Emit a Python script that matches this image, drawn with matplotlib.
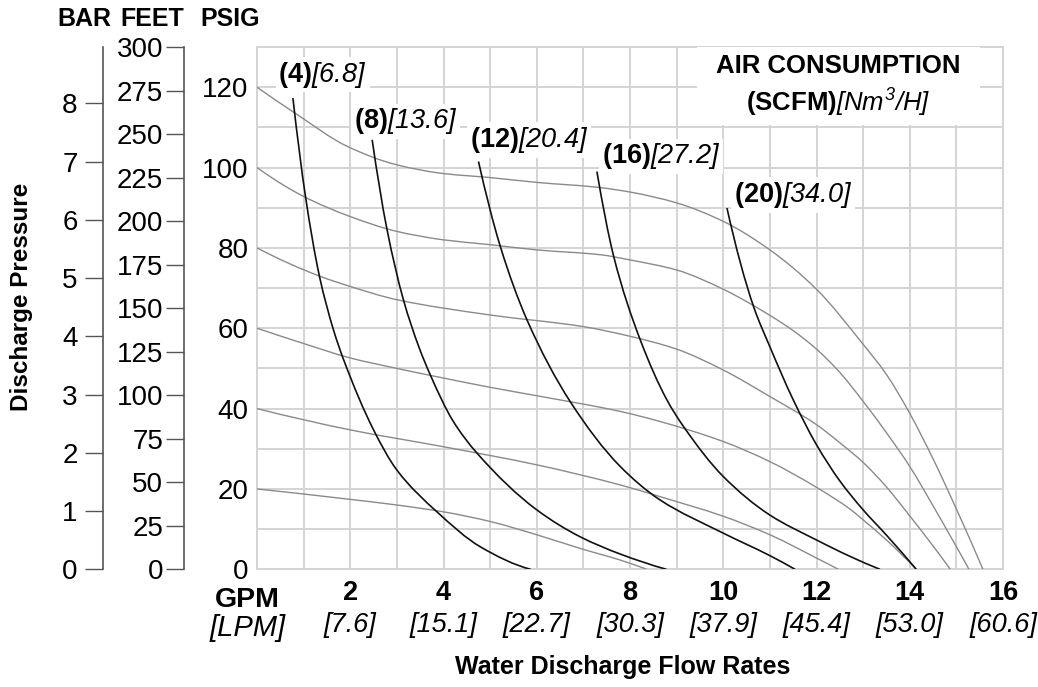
import numpy as np
import matplotlib.pyplot as plt
from matplotlib.patches import Rectangle, PathPatch
from matplotlib.path import Path

plt.rcParams['font.family'] = ['Liberation Sans', 'DejaVu Sans']
plt.rcParams['mathtext.fontset'] = 'custom'
plt.rcParams['mathtext.rm'] = 'Liberation Sans:italic'
plt.rcParams['mathtext.it'] = 'Liberation Sans:italic'
plt.rcParams['mathtext.bf'] = 'Liberation Sans:bold'

# inlet air pressure curves (psig): GPM vs discharge psig
G120_X = [0, 0.86, 1.93, 2.99, 4.0, 5.0, 6.0, 7.29, 8.0, 9.0, 10.0, 11.0, 12.0, 13.0, 13.5, 14.0, 14.5, 15.0, 15.57]
G120_Y = [120, 113.2, 105.3, 100.7, 98.5, 97.5, 96.3, 95.1, 93.9, 91.2, 86.6, 79.5, 69.7, 56.0, 48.5, 38.8, 27.5, 15.0, 0]
G100_X = [0, 1.0, 2.0, 3.0, 4.0, 5.0, 6.0, 7.36, 8.0, 9.0, 10.0, 11.0, 11.5, 12.0, 12.5, 13.0, 13.5, 14.0, 14.5, 15.27]
G100_Y = [100, 92.8, 87.8, 84.1, 82.0, 80.8, 79.5, 78.3, 77.0, 74.5, 69.7, 63.2, 59.4, 54.8, 49.0, 41.8, 34.0, 25.6, 15.8, 0]
G80_X = [0, 1.36, 2.0, 3.0, 5.0, 7.0, 8.0, 9.0, 10.0, 11.0, 12.0, 12.5, 13.0, 13.5, 14.0, 14.5, 14.87]
G80_Y = [80, 72.9, 70.4, 67.1, 63.3, 60.4, 58.0, 54.8, 49.6, 43.0, 36.0, 31.5, 26.6, 20.5, 13.3, 5.8, 0]
G60_X = [0, 1.0, 2.0, 3.0, 4.0, 5.0, 6.0, 7.79, 8.64, 10.0, 11.0, 12.0, 12.74, 13.0, 13.5, 14.14]
G60_Y = [60, 56.2, 52.6, 50.0, 47.6, 45.3, 43.2, 39.3, 36.8, 31.8, 26.8, 20.4, 14.8, 12.3, 7.3, 0]
G40_X = [0, 2.0, 4.0, 6.0, 7.79, 8.64, 10.0, 11.0, 12.0, 12.47]
G40_Y = [40, 34.7, 30.5, 26.0, 21.0, 18.1, 13.2, 8.6, 2.8, 0]
G20_X = [0, 2.0, 3.0, 4.0, 5.0, 6.0, 6.93, 7.79, 8.36]
G20_Y = [20, 17.4, 16.0, 14.3, 11.9, 8.6, 5.2, 2.3, 0]

# air consumption curves (SCFM)
B4_X = [0.77, 1.04, 1.34, 1.64, 1.86, 2.5, 3.0, 3.86, 4.79, 5.87]
B4_Y = [117.3, 92.8, 72.9, 59.6, 52.1, 34.7, 24.7, 14.3, 5.6, 0]
B8_X = [2.47, 2.79, 3.14, 3.47, 3.72, 4.2, 4.72, 6.0, 6.93, 7.79, 8.78]
B8_Y = [106.9, 84.5, 67.1, 55.4, 48.3, 37.0, 28.9, 14.8, 8.1, 3.8, 0]
B12_X = [4.75, 5.22, 5.79, 6.72, 7.79, 8.64, 10.0, 11.0, 11.54]
B12_Y = [101.5, 80.3, 62.1, 41.7, 25.6, 17.3, 9.0, 3.4, 0]
B16_X = [7.29, 7.65, 8.22, 8.79, 9.15, 10.0, 11.0, 12.0, 12.74, 13.36]
B16_Y = [99.0, 77.9, 57.1, 42.2, 35.5, 23.1, 13.5, 7.3, 3.1, 0]
B20_X = [10.08, 10.65, 11.0, 11.5, 12.0, 12.5, 13.0, 13.5, 14.14]
B20_Y = [89.9, 65.4, 55.4, 42.2, 31.0, 22.0, 14.8, 8.5, 0]

gray_curves = [(G120_X, G120_Y), (G100_X, G100_Y), (G80_X, G80_Y),
               (G60_X, G60_Y), (G40_X, G40_Y), (G20_X, G20_Y)]
black_curves = [(B4_X, B4_Y), (B8_X, B8_Y), (B12_X, B12_Y), (B16_X, B16_Y), (B20_X, B20_Y)]

SCFM = ['4', '8', '12', '16', '20']
NM3H = ['6.8', '13.6', '20.4', '27.2', '34.0']
LABEL_X = [0.46, 2.07, 4.56, 7.4, 10.23]
LABEL_Y = [123.1, 111.5, 106.9, 102.8, 93.2]

GPM_TICKS = [2, 4, 6, 8, 10, 12, 14, 16]
LPM_TICKS = ['7.6', '15.1', '22.7', '30.3', '37.9', '45.4', '53.0', '60.6']

FT_PER_PSI = 300 / 130
PSI_PER_BAR = 14.5


def smooth_path(xs, ys):
    # monotone cubic through the read points, drawn as bezier segments
    x = np.asarray(xs, float)
    y = np.asarray(ys, float)
    h = np.diff(x)
    d = np.diff(y) / h
    n = len(x)
    m = np.zeros(n)
    for k in range(1, n - 1):
        if d[k - 1] * d[k] > 0:
            w1 = 2 * h[k] + h[k - 1]
            w2 = h[k] + 2 * h[k - 1]
            m[k] = (w1 + w2) / (w1 / d[k - 1] + w2 / d[k])

    def end(h0, h1, d0, d1):
        t = ((2 * h0 + h1) * d0 - h0 * d1) / (h0 + h1)
        if np.sign(t) != np.sign(d0):
            return 0.0
        if np.sign(d0) != np.sign(d1) and abs(t) > abs(3 * d0):
            return 3 * d0
        return t

    if n > 2:
        m[0] = end(h[0], h[1], d[0], d[1])
        m[-1] = end(h[-1], h[-2], d[-1], d[-2])
    else:
        m[:] = d[0]
    verts = [(x[0], y[0])]
    codes = [Path.MOVETO]
    for k in range(n - 1):
        verts += [(x[k] + h[k] / 3, y[k] + m[k] * h[k] / 3),
                  (x[k + 1] - h[k] / 3, y[k + 1] - m[k + 1] * h[k] / 3),
                  (x[k + 1], y[k + 1])]
        codes += [Path.CURVE4] * 3
    return Path(verts, codes)


W, H = 1038, 687
fig = plt.figure(figsize=(W / 100, H / 100), dpi=100)
left, right, top, bottom = 257, 1003, 47, 569.3
ax = fig.add_axes([left / W, (H - bottom) / H, (right - left) / W, (bottom - top) / H])

ax.set_xlim(0, 16)
ax.set_ylim(0, 130)
ax.set_xticks(range(0, 17))
ax.set_xticklabels([])
ax.set_yticks(range(0, 121, 20))
ax.set_yticks(range(10, 131, 20), minor=True)
ax.tick_params(axis='both', which='both', length=0)
ax.tick_params(axis='y', labelsize=20, pad=6)
ax.grid(True, which='both', color='#d4d4d4', linewidth=1.4)
ax.set_axisbelow(True)
for s in ax.spines.values():
    s.set_color('#d4d4d4')
    s.set_linewidth(1.4)

for xs, ys in gray_curves:
    ax.add_patch(PathPatch(smooth_path(xs, ys), facecolor='none',
                           edgecolor='#8a8a8a', linewidth=1.0, zorder=3))
for xs, ys in black_curves:
    ax.add_patch(PathPatch(smooth_path(xs, ys), facecolor='none',
                           edgecolor='#111111', linewidth=1.2, zorder=4))

for s, n, lx, ly in zip(SCFM, NM3H, LABEL_X, LABEL_Y):
    ax.text(lx, ly, r'$\mathbf{(' + s + r')}[' + n + r']$', fontsize=19.5,
            ha='left', va='center', zorder=6,
            bbox=dict(facecolor='white', edgecolor='none', pad=2))

# air consumption legend box
ax.add_patch(Rectangle((9.44, 110.6), 6.07, 19.4, facecolor='white', edgecolor='none', zorder=5))
ax.text(12.46, 125.2, 'AIR CONSUMPTION', fontsize=18.5, fontweight='bold',
        ha='center', va='center', zorder=6)
ax.text(12.46, 116.1, r'$\mathbf{(SCFM)}[Nm^3/H]$', fontsize=18.5,
        ha='center', va='center', zorder=6)

# x tick labels: GPM bold, LPM italic
xt = ax.get_xaxis_transform()
for g, l in zip(GPM_TICKS, LPM_TICKS):
    ax.text(g, -0.046, str(g), transform=xt, fontsize=19.5, fontweight='bold',
            ha='center', va='center', clip_on=False)
    ax.text(g, -0.107, '[' + l + ']', transform=xt, fontsize=19.5, style='italic',
            ha='center', va='center', clip_on=False)
ax.text(-0.21, -0.059, 'GPM', transform=xt, fontsize=20.5, fontweight='bold',
        ha='center', va='center', clip_on=False)
ax.text(-0.21, -0.113, '[LPM]', transform=xt, fontsize=21, style='italic',
        ha='center', va='center', clip_on=False)

# extra pressure scales
feet = ax.secondary_yaxis((184 - left) / (right - left),
                          functions=(lambda p: p * FT_PER_PSI, lambda f: f / FT_PER_PSI))
feet.set_yticks(range(0, 301, 25))
bar = ax.secondary_yaxis((102.7 - left) / (right - left),
                         functions=(lambda p: p / PSI_PER_BAR, lambda b: b * PSI_PER_BAR))
bar.set_yticks(range(0, 9))
for sec, pad in ((feet, 2), (bar, 5)):
    sec.tick_params(axis='y', direction='out', length=13, width=1.0,
                    color='#555555', labelsize=20, pad=pad)
    sec.spines['left'].set_color('#555555')
    sec.spines['left'].set_linewidth(1.2)

for word, cx in (('BAR', 84), ('FEET', 152), ('PSIG', 230)):
    fig.text(cx / W, 1 - 19 / H, word, fontsize=18, fontweight='bold',
             ha='center', va='center')
fig.text(22 / W, 1 - 297 / H, 'Discharge Pressure', fontsize=17.5, fontweight='bold',
         rotation=90, ha='center', va='center')
fig.text(623 / W, 1 - 667 / H, 'Water Discharge Flow Rates', fontsize=18,
         fontweight='bold', ha='center', va='center')

fig.savefig('out.png', dpi=100)
